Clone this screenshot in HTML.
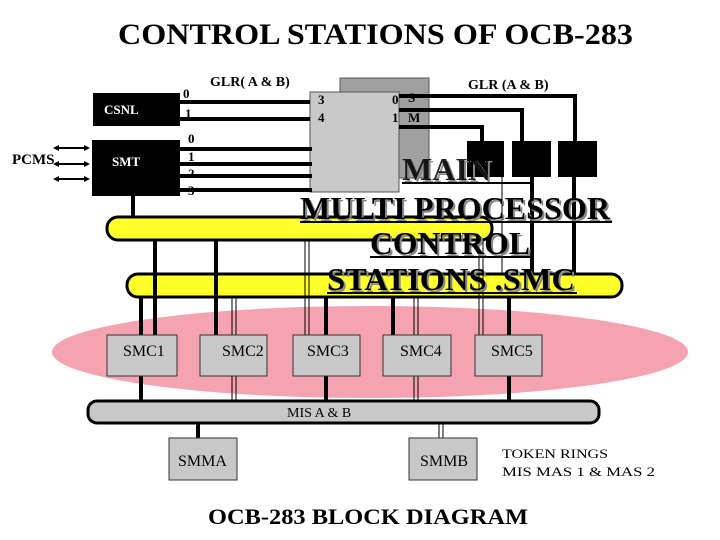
<!DOCTYPE html>
<html><head><style>body{margin:0;background:#fff}svg{display:block}text{font-family:"Liberation Serif",serif}</style></head>
<body>
<svg width="720" height="540" viewBox="0 0 720 540" xmlns="http://www.w3.org/2000/svg">
<rect width="720" height="540" fill="#fff"/>
<text x="118" y="44" font-size="30" font-weight="bold" textLength="515" lengthAdjust="spacingAndGlyphs">CONTROL STATIONS OF OCB-283</text>

<ellipse cx="370" cy="352" rx="318" ry="46" fill="#f6a3b1"/>

<rect x="107" y="217" width="385" height="23" rx="11" fill="#ffff2a" stroke="#000" stroke-width="3"/>
<rect x="127" y="274" width="495" height="23" rx="11" fill="#ffff2a" stroke="#000" stroke-width="3"/>

<rect x="340" y="78" width="89" height="100" fill="#a0a0a0" stroke="#555" stroke-width="1"/>
<rect x="310" y="92" width="89" height="100" fill="#c8c8c8" stroke="#555" stroke-width="1"/>

<rect x="93" y="93" width="87" height="33" fill="#000"/>
<text x="104" y="114" font-size="13" fill="#fff" font-weight="bold" font-family="Liberation Sans">CSNL</text>
<rect x="92" y="140" width="88" height="56" fill="#000"/>
<text x="112" y="166" font-size="13" fill="#fff" font-weight="bold" font-family="Liberation Sans">SMT</text>
<text x="12" y="164" font-size="15" font-weight="bold">PCMS</text>
<g stroke="#000" stroke-width="2" fill="#000">
<line x1="55" y1="148" x2="88" y2="148"/><line x1="55" y1="164" x2="88" y2="164"/><line x1="55" y1="179" x2="88" y2="179"/>
</g>
<g fill="#000">
<polygon points="53,148 59,145 59,151"/><polygon points="90,148 84,145 84,151"/>
<polygon points="53,164 59,161 59,167"/><polygon points="90,164 84,161 84,167"/>
<polygon points="53,179 59,176 59,182"/><polygon points="90,179 84,176 84,182"/>
</g>

<g stroke="#000" stroke-width="4" fill="none">
<line x1="180" y1="102" x2="310" y2="102"/>
<line x1="180" y1="119" x2="310" y2="119"/>
<line x1="180" y1="149" x2="312" y2="149"/>
<line x1="180" y1="164" x2="312" y2="164"/>
<line x1="180" y1="176" x2="312" y2="176"/>
<line x1="180" y1="190" x2="312" y2="190"/>
<polyline points="399,96 575,96 575,141"/>
<polyline points="399,110 522,110 522,141"/>
<polyline points="399,127 482,127 482,141"/>
<line x1="133" y1="196" x2="133" y2="217"/>
<line x1="155" y1="240" x2="155" y2="335"/>
<line x1="216" y1="240" x2="216" y2="335"/>
<line x1="141" y1="297" x2="141" y2="335"/>
<line x1="326" y1="297" x2="326" y2="335"/>
<line x1="393" y1="297" x2="393" y2="335"/>
<line x1="509" y1="297" x2="509" y2="335"/>
<line x1="574" y1="177" x2="574" y2="274"/>
<line x1="532" y1="177" x2="532" y2="274"/>
<line x1="141" y1="376" x2="141" y2="400"/>
<line x1="326" y1="376" x2="326" y2="400"/>
<line x1="509" y1="376" x2="509" y2="400"/>
<line x1="198" y1="423" x2="198" y2="438"/>
</g>
<g stroke="#000" stroke-width="1" fill="none">
<line x1="232" y1="297" x2="232" y2="400"/><line x1="236" y1="297" x2="236" y2="400"/>
<line x1="305" y1="240" x2="305" y2="335"/><line x1="309" y1="240" x2="309" y2="335"/>
<line x1="414" y1="297" x2="414" y2="400"/><line x1="418" y1="297" x2="418" y2="400"/>
<line x1="479" y1="240" x2="479" y2="335"/><line x1="483" y1="240" x2="483" y2="335"/>
<line x1="502" y1="177" x2="502" y2="274"/>
<line x1="439" y1="423" x2="439" y2="438"/><line x1="443" y1="423" x2="443" y2="438"/>
</g>

<rect x="467" y="141" width="37" height="36" fill="#000"/>
<rect x="512" y="141" width="39" height="36" fill="#000"/>
<rect x="558" y="141" width="39" height="36" fill="#000"/>

<g font-size="13" font-weight="bold">
<text x="183" y="98">0</text><text x="185" y="118">1</text>
<text x="188" y="143">0</text><text x="188" y="161">1</text><text x="188" y="178">2</text><text x="188" y="195">3</text>
<text x="318" y="104">3</text><text x="318" y="122">4</text>
<text x="392" y="104">0</text><text x="392" y="122">1</text>
<text x="408" y="102">S</text><text x="408" y="122">M</text>
<text x="210" y="86" font-size="14">GLR( A &amp; B)</text>
<text x="468" y="89" font-size="14">GLR (A &amp; B)</text>
</g>

<g font-size="32" font-weight="bold">
<text x="402" y="180" fill="#888" transform="translate(2,2)">MAIN</text>
<text x="402" y="180" fill="#000" opacity="0.85">MAIN</text>
<text x="300" y="219" fill="#888" transform="translate(2,2)" textLength="310" lengthAdjust="spacingAndGlyphs">MULTI PROCESSOR</text>
<text x="300" y="219" textLength="310" lengthAdjust="spacingAndGlyphs">MULTI PROCESSOR</text>
<text x="370" y="254" fill="#888" transform="translate(2,2)" textLength="160" lengthAdjust="spacingAndGlyphs">CONTROL</text>
<text x="370" y="254" textLength="160" lengthAdjust="spacingAndGlyphs">CONTROL</text>
<text x="327" y="290" fill="#888" transform="translate(2,2)" textLength="248" lengthAdjust="spacingAndGlyphs">STATIONS .SMC</text>
<text x="327" y="290" textLength="248" lengthAdjust="spacingAndGlyphs">STATIONS .SMC</text>
</g>
<g stroke="#000" stroke-width="2">
<line x1="402" y1="183" x2="530" y2="183"/>
<line x1="300" y1="222" x2="612" y2="222"/>
<line x1="370" y1="257" x2="532" y2="257"/>
<line x1="327" y1="293" x2="577" y2="293"/>
</g>

<g fill="#c8c8c8" stroke="#333" stroke-width="1">
<rect x="107" y="335" width="70" height="41"/>
<rect x="200" y="335" width="67" height="41"/>
<rect x="293" y="335" width="67" height="41"/>
<rect x="383" y="335" width="68" height="41"/>
<rect x="475" y="335" width="67" height="41"/>
</g>
<g font-size="16">
<text x="123" y="356">SMC1</text><text x="222" y="356">SMC2</text><text x="307" y="356">SMC3</text><text x="400" y="356">SMC4</text><text x="491" y="356">SMC5</text>
</g>

<rect x="88" y="401" width="511" height="22" rx="9" fill="#c8c8c8" stroke="#000" stroke-width="3"/>
<text x="287" y="417" font-size="14">MIS A  &amp;  B</text>

<rect x="169" y="438" width="68" height="42" fill="#c8c8c8" stroke="#333"/>
<text x="178" y="466" font-size="16">SMMA</text>
<rect x="409" y="438" width="68" height="42" fill="#c8c8c8" stroke="#333"/>
<text x="420" y="466" font-size="16">SMMB</text>
<text x="502" y="458" font-size="13" textLength="106" lengthAdjust="spacingAndGlyphs">TOKEN RINGS</text>
<text x="502" y="476" font-size="13" textLength="153" lengthAdjust="spacingAndGlyphs">MIS  MAS 1  &amp;  MAS 2</text>

<text x="208" y="524" font-size="22" font-weight="bold" textLength="320" lengthAdjust="spacingAndGlyphs">OCB-283  BLOCK DIAGRAM</text>
</svg>
</body></html>
